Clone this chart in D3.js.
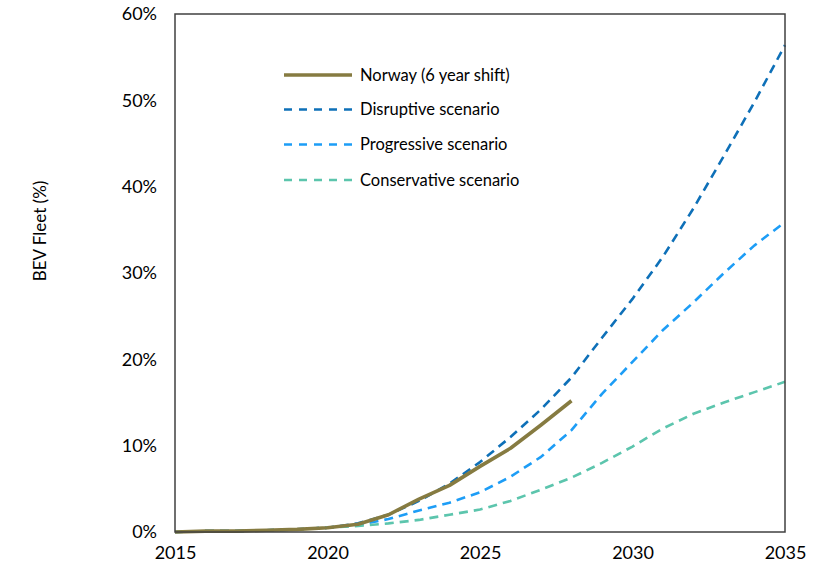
<!DOCTYPE html>
<html>
<head>
<meta charset="utf-8">
<script src="https://cdn.jsdelivr.net/npm/d3@7"></script>
<style>
  html, body { margin: 0; padding: 0; background: #fff; }
  svg { display: block; font-family: Lato, "Open Sans", sans-serif; }
</style>
</head>
<body>
<svg id="chart" width="822" height="572"></svg>
<script>
// BEV share of the vehicle fleet (%), by year
const years = d3.range(2015, 2036);
const norwayYears = d3.range(2015, 2029);
const norway = [0, 0.1, 0.1, 0.2, 0.3, 0.5, 0.9, 2.0, 3.8, 5.4, 7.6, 9.7, 12.4, 15.2];
const disruptive = [0, 0.1, 0.1, 0.2, 0.3, 0.5, 1.0, 2.0, 3.6, 5.6, 8.1, 11.0, 14.2, 17.9, 22.5, 27.0, 31.9, 37.5, 43.6, 49.8, 56.4];
const progressive = [0, 0.1, 0.1, 0.2, 0.3, 0.5, 0.8, 1.5, 2.5, 3.4, 4.6, 6.4, 8.7, 11.8, 16.0, 19.7, 23.4, 26.6, 30.0, 33.2, 35.9];
const conservative = [0, 0.1, 0.1, 0.2, 0.3, 0.5, 0.7, 1.0, 1.4, 2.0, 2.6, 3.6, 4.9, 6.3, 8.0, 9.9, 12.0, 13.7, 15.0, 16.2, 17.4];
const xTicks = [2015, 2020, 2025, 2030, 2035];
const yTicks = [0, 10, 20, 30, 40, 50, 60];

const series = [
  { name: "Norway (6 year shift)", x: norwayYears, y: norway, color: "#867b41", width: 3.6, dash: null },
  { name: "Disruptive scenario", x: years, y: disruptive, color: "#0e70b8", width: 2.6, dash: "9,6" },
  { name: "Progressive scenario", x: years, y: progressive, color: "#1d9df6", width: 2.6, dash: "9,6" },
  { name: "Conservative scenario", x: years, y: conservative, color: "#5cc5ad", width: 2.6, dash: "9,6" }
];

const svg = d3.select("#chart");
const plotLeft = 175, plotRight = 785, plotTop = 14, plotBottom = 532;

const x = d3.scaleLinear().domain([2015, 2035]).range([plotLeft, plotRight]);
const y = d3.scaleLinear().domain([0, 60]).range([plotBottom, plotTop]);

// Axes (labels only; the frame is drawn separately)
const yAxis = svg.append("g")
  .attr("transform", `translate(${plotLeft},0)`)
  .call(d3.axisLeft(y).tickValues(yTicks).tickSize(0).tickPadding(18).tickFormat(d => d + "%"));
yAxis.select(".domain").remove();
yAxis.selectAll("text").attr("font-size", 18).attr("fill", "#000").attr("font-family", "Lato, sans-serif");

const xAxis = svg.append("g")
  .attr("transform", `translate(0,${plotBottom})`)
  .call(d3.axisBottom(x).tickValues(xTicks).tickSize(0).tickPadding(14).tickFormat(d3.format("d")));
xAxis.select(".domain").remove();
xAxis.selectAll("text").attr("font-size", 18).attr("fill", "#000").attr("font-family", "Lato, sans-serif");

// Axis title
svg.append("text")
  .attr("transform", `translate(46,${(plotTop + plotBottom) / 2 - 42}) rotate(-90)`)
  .attr("text-anchor", "middle")
  .attr("font-size", 17)
  .attr("fill", "#000")
  .text("BEV Fleet (%)");

// Lines (scenarios first, Norway on top)
const line = d3.line().x(d => x(d[0])).y(d => y(d[1]));
const order = [1, 2, 3, 0];
order.forEach(i => {
  const s = series[i];
  svg.append("path")
    .datum(s.x.map((yr, k) => [yr, s.y[k]]))
    .attr("fill", "none")
    .attr("stroke", s.color)
    .attr("stroke-width", s.width)
    .attr("stroke-dasharray", s.dash)
    .attr("stroke-linejoin", "round")
    .attr("d", line);
});

// Plot frame
svg.append("rect")
  .attr("x", plotLeft).attr("y", plotTop)
  .attr("width", plotRight - plotLeft).attr("height", plotBottom - plotTop)
  .attr("fill", "none")
  .attr("stroke", "#404040")
  .attr("stroke-width", 1.5);

// Legend
const legendY = [75, 109.5, 144.5, 180];
const lg = svg.append("g");
series.forEach((s, i) => {
  lg.append("line")
    .attr("x1", 284).attr("x2", 352)
    .attr("y1", legendY[i]).attr("y2", legendY[i])
    .attr("stroke", s.color)
    .attr("stroke-width", s.width)
    .attr("stroke-dasharray", s.dash ? "8,7" : null);
  lg.append("text")
    .attr("x", 360).attr("y", legendY[i])
    .attr("dy", "0.35em")
    .attr("font-size", 16.5)
    .attr("fill", "#000")
    .text(s.name);
});
</script>
</body>
</html>
